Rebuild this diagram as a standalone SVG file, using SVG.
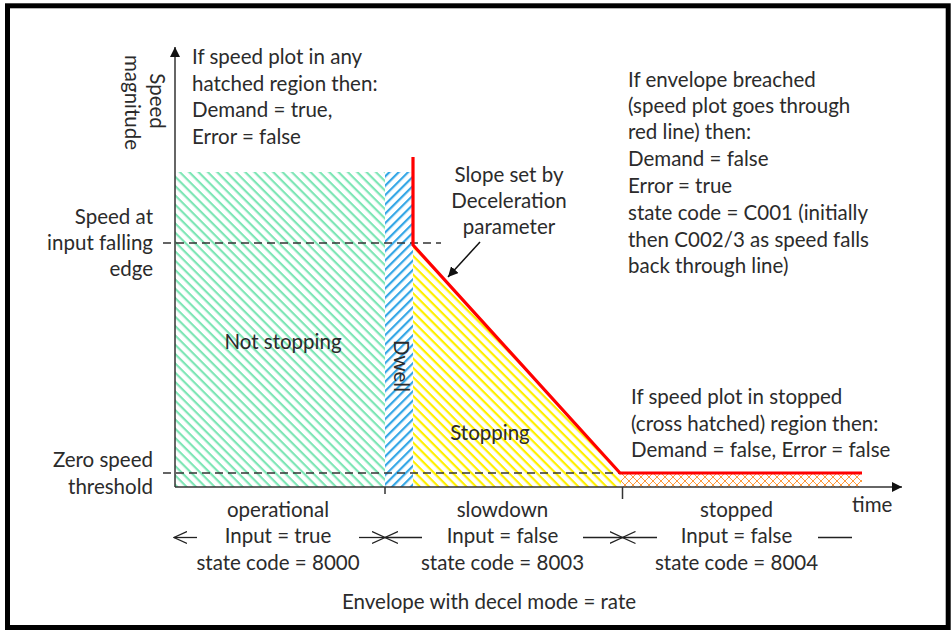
<svg xmlns="http://www.w3.org/2000/svg" width="952" height="630" viewBox="0 0 952 630">
<style>
text{font-family:Lato,"Liberation Sans",sans-serif;font-size:20.5px;fill:#2b2b2b}
.m{text-anchor:middle}
.e{text-anchor:end}
.ax{stroke:#333;stroke-width:1.5;fill:none}
.dash{stroke:#333;stroke-width:1.5;stroke-dasharray:8 5;fill:none}
.red{stroke:#ff0000;stroke-width:3.2;fill:none;stroke-linejoin:miter}
.thin{stroke:#222;stroke-width:1.3;fill:none}
</style>
<defs>
<pattern id="hg" width="6.6" height="6.6" patternUnits="userSpaceOnUse" patternTransform="rotate(45)">
<rect x="0" y="0" width="6.6" height="2.2" fill="#7fe6b6"/>
</pattern>
<pattern id="hb" width="6.6" height="6.6" patternUnits="userSpaceOnUse" patternTransform="rotate(-45)">
<rect x="0" y="0" width="6.6" height="2.2" fill="#35a7e6"/>
</pattern>
<pattern id="hy" width="6.6" height="6.6" patternUnits="userSpaceOnUse" patternTransform="rotate(45)">
<rect x="0" y="0" width="6.6" height="2.2" fill="#fff000"/>
</pattern>
<pattern id="hx" width="8" height="8" patternUnits="userSpaceOnUse" x="621" y="473">
<path d="M0,0 L8,8 M8,0 L0,8" stroke="#ff9a3c" stroke-width="1" fill="none"/>
</pattern>
<marker id="af" viewBox="0 0 10 10" refX="10" refY="5" markerWidth="10" markerHeight="10" markerUnits="userSpaceOnUse" orient="auto">
<path d="M0,0 L10,5 L0,10 Z" fill="#111"/>
</marker>
<marker id="ao" viewBox="0 0 14 14" refX="13" refY="7" markerWidth="14" markerHeight="14" markerUnits="userSpaceOnUse" orient="auto">
<path d="M0,1 L13,7 L0,13" stroke="#222" stroke-width="1.3" fill="none"/>
</marker>
</defs>

<rect x="7.5" y="5.8" width="940.7" height="621.7" fill="#fff" stroke="#000" stroke-width="5"/>

<g id="regions">
<g id="not-stopping">
<rect x="175" y="172" width="210" height="315" fill="url(#hg)"/>
<text x="283" y="349" class="m">Not stopping</text>
</g>
<g id="dwell">
<rect x="385" y="172" width="28" height="315" fill="url(#hb)"/>
<text transform="translate(394,366) rotate(90)" class="m">Dwell</text>
</g>
<g id="stopping">
<polygon points="413,245 621,473 621,487 413,487" fill="url(#hy)"/>
<text x="490" y="440" class="m">Stopping</text>
</g>
<g id="stopped-region">
<rect x="621" y="473" width="241" height="14" fill="url(#hx)"/>
</g>
</g>

<g id="connectors">
<line x1="163" y1="243" x2="441" y2="243" class="dash"/>
<line x1="163" y1="473" x2="621" y2="473" class="dash"/>
<line x1="175" y1="487" x2="175" y2="47" class="ax" marker-end="url(#af)"/>
<line x1="175" y1="487" x2="902" y2="487" class="ax" marker-end="url(#af)"/>
<line x1="385" y1="487" x2="385" y2="494" class="ax"/>
<line x1="622.5" y1="487" x2="622.5" y2="499" class="ax"/>
<polyline points="413,157 413,245 620,473 862,473" class="red"/>
<line x1="480" y1="242" x2="448" y2="277" stroke="#111" stroke-width="1.5" marker-end="url(#af)"/>
<line x1="197" y1="537.5" x2="174" y2="537.5" class="thin" marker-end="url(#ao)"/>
<line x1="359" y1="537.5" x2="385" y2="537.5" class="thin" marker-end="url(#ao)"/>
<line x1="422" y1="537.5" x2="385" y2="537.5" class="thin" marker-end="url(#ao)"/>
<line x1="583" y1="537.5" x2="622.5" y2="537.5" class="thin" marker-end="url(#ao)"/>
<line x1="657" y1="537.5" x2="622.5" y2="537.5" class="thin" marker-end="url(#ao)"/>
<line x1="818" y1="537.5" x2="852" y2="537.5" class="thin"/>
</g>

<g id="axis-labels">
<text transform="translate(150,101) rotate(90)" class="m">Speed</text>
<text transform="translate(125,102.5) rotate(90)" class="m">magnitude</text>
<text x="153" y="224" class="e">Speed at</text>
<text x="153" y="250" class="e">input falling</text>
<text x="153" y="276" class="e">edge</text>
<text x="153" y="467" class="e">Zero speed</text>
<text x="153" y="494" class="e">threshold</text>
<text x="852" y="512">time</text>
</g>

<g id="note-hatched">
<text x="192" y="64">If speed plot in any</text>
<text x="192" y="91">hatched region then:</text>
<text x="192" y="117">Demand = true,</text>
<text x="192" y="144">Error = false</text>
</g>

<g id="note-slope">
<text x="509" y="182" class="m">Slope set by</text>
<text x="509" y="208" class="m">Deceleration</text>
<text x="509" y="234" class="m">parameter</text>
</g>

<g id="note-breached">
<text x="628" y="87">If envelope breached</text>
<text x="628" y="113">(speed plot goes through</text>
<text x="628" y="139">red line) then:</text>
<text x="628" y="166">Demand = false</text>
<text x="628" y="193">Error = true</text>
<text x="628" y="220">state code = C001 (initially</text>
<text x="628" y="247">then C002/3 as speed falls</text>
<text x="628" y="273">back through line)</text>
</g>

<g id="note-stopped">
<text x="631" y="404">If speed plot in stopped</text>
<text x="631" y="431">(cross hatched) region then:</text>
<text x="631" y="457">Demand = false, Error = false</text>
</g>

<g id="state-operational">
<text x="278" y="517" class="m">operational</text>
<text x="278" y="543" class="m">Input = true</text>
<text x="278" y="570" class="m">state code = 8000</text>
</g>
<g id="state-slowdown">
<text x="502.5" y="517" class="m">slowdown</text>
<text x="502.5" y="543" class="m">Input = false</text>
<text x="502.5" y="570" class="m">state code = 8003</text>
</g>
<g id="state-stopped">
<text x="736.5" y="517" class="m">stopped</text>
<text x="736.5" y="543" class="m">Input = false</text>
<text x="736.5" y="570" class="m">state code = 8004</text>
</g>

<text x="489" y="609" class="m">Envelope with decel mode = rate</text>
</svg>
